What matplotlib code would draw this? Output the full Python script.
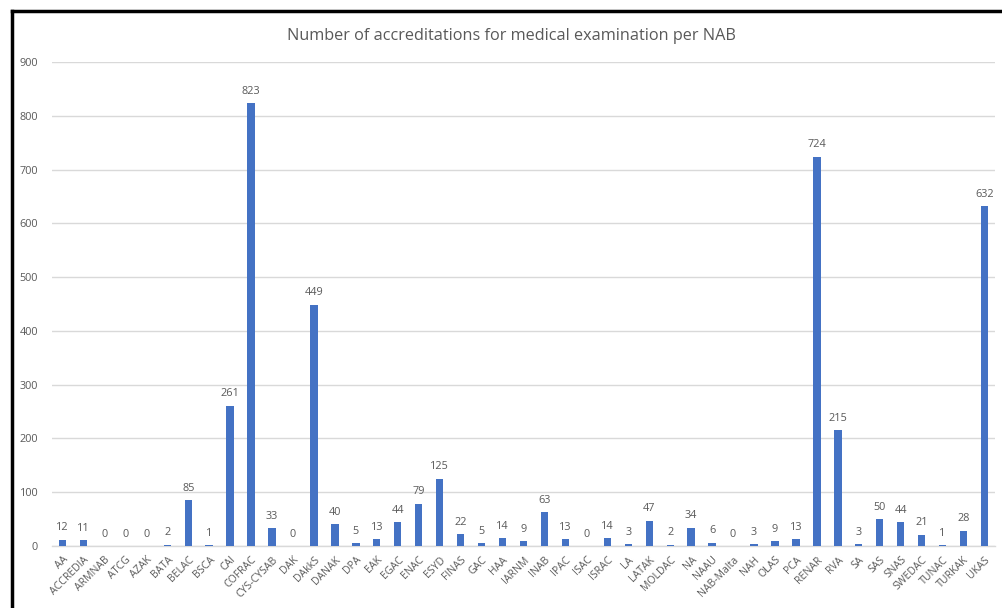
import matplotlib
matplotlib.use("Agg")
import matplotlib.pyplot as plt
from matplotlib.lines import Line2D

categories = ["AA", "ACCREDIA", "ARMNAB", "ATCG", "AZAK", "BATA", "BELAC", "BSCA", "CAI",
              "COFRAC", "CYS-CYSAB", "DAK", "DAkkS", "DANAK", "DPA", "EAK", "EGAC", "ENAC",
              "ESYD", "FINAS", "GAC", "HAA", "IARNM", "INAB", "IPAC", "ISAC", "ISRAC", "LA",
              "LATAK", "MOLDAC", "NA", "NAAU", "NAB-Malta", "NAH", "OLAS", "PCA", "RENAR",
              "RVA", "SA", "SAS", "SNAS", "SWEDAC", "TUNAC", "TURKAK", "UKAS"]
values = [12, 11, 0, 0, 0, 2, 85, 1, 261, 823, 33, 0, 449, 40, 5, 13, 44, 79, 125, 22, 5,
          14, 9, 63, 13, 0, 14, 3, 47, 2, 34, 6, 0, 3, 9, 13, 724, 215, 3, 50, 44, 21, 1,
          28, 632]
yticks = [0, 100, 200, 300, 400, 500, 600, 700, 800, 900]
title = "Number of accreditations for medical examination per NAB"

plt.rcParams['font.family'] = ['Open Sans', 'DejaVu Sans']
gray = "#595959"

fig = plt.figure(figsize=(10.02, 6.08), dpi=100)
ax = fig.add_axes([52/1002, 62/608, (995-52)/1002, (546-62)/608])

x = list(range(len(categories)))
bars = ax.bar(x, values, width=0.35, color="#4472C4", zorder=3)
for xi, v in zip(x, values):
    ax.text(xi, v + 12, str(v), ha="center", va="bottom", fontsize=7.8, color=gray)

ax.set_xlim(-0.5, len(categories) - 0.5)
ax.set_ylim(0, 900)
ax.set_yticks(yticks)
ax.set_yticklabels([str(t) for t in yticks], fontsize=7.8, color=gray)
ax.set_xticks(x)
ax.set_xticklabels(categories, rotation=45, ha="right", rotation_mode="anchor",
                   fontsize=7.6, color=gray)
ax.tick_params(axis="both", length=0, pad=6)
ax.tick_params(axis="y", pad=10)
ax.grid(axis="y", color="#d9d9d9", linewidth=1, zorder=0)
for s in ["top", "right", "left"]:
    ax.spines[s].set_visible(False)
ax.spines["bottom"].set_color("#d9d9d9")
ax.spines["bottom"].set_linewidth(1)

fig.text(511/1002, 1 - 36/608, title, ha="center", va="center", fontsize=11.7, color=gray)

# outer frame (top and left black border)
fig.add_artist(Line2D([11.5/1002, 1.0], [1 - 11/608, 1 - 11/608], color="black",
                      linewidth=2.5, transform=fig.transFigure))
fig.add_artist(Line2D([11.5/1002, 11.5/1002], [0, 1 - 11/608], color="black",
                      linewidth=2.5, transform=fig.transFigure))

fig.savefig("out.png", dpi=100)
